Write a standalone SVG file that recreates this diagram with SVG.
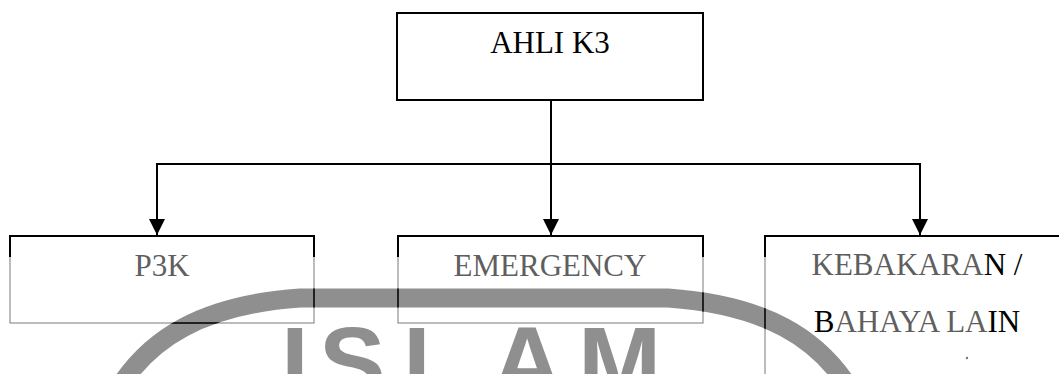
<svg xmlns="http://www.w3.org/2000/svg" width="1059" height="374" viewBox="0 0 1059 374">
  <style>
    .lbl { font-family: "Liberation Serif", "Times New Roman", serif; font-size: 31px; text-anchor: middle; }
    .top { fill: #000; }
    .low { fill: #5f5f5f; }
    .blk { fill: #000; }
    .box { fill: none; stroke: #000; stroke-width: 2; }
    .lowbox { fill: none; stroke: #7a7a7a; stroke-width: 1; }
    .edge { fill: none; stroke: #000; stroke-width: 2; }
    .conn { fill: none; stroke: #000; stroke-width: 2; }
    .wm { fill: #8f8f8f; font-family: "Liberation Sans", Arial, sans-serif; font-weight: bold; font-size: 100px; }
    .wmarc { fill: none; stroke: #8f8f8f; stroke-width: 19; }
  </style>
  <defs>
    <marker id="arrow" markerUnits="userSpaceOnUse" markerWidth="16" markerHeight="16" refX="15" refY="7.5" orient="auto" viewBox="0 0 15 15">
      <path d="M0,0 L15,7.5 L0,15 Z" fill="#000"/>
    </marker>
    <mask id="wmmask" maskUnits="userSpaceOnUse" x="0" y="0" width="1059" height="374">
      <rect x="0" y="0" width="1059" height="374" fill="#000"/>
      <path d="M120,386 C150,340 200,305 300,298 L668,298 C768,305 818,340 848,386" fill="none" stroke="#fff" stroke-width="19"/>
    </mask>
  </defs>

  <!-- watermark -->
  <g id="watermark">
    <path class="wmarc" d="M120,386 C150,340 200,305 300,298 L668,298 C768,305 818,340 848,386"/>
    <text class="wm" x="281 319 403 491 578" y="397">ISLAM</text>
  </g>

  <g id="connectors">
    <line class="conn" x1="551" y1="100" x2="551" y2="235" marker-end="url(#arrow)"/>
    <line class="conn" x1="156" y1="164" x2="921" y2="164"/>
    <line class="conn" x1="157" y1="163" x2="157" y2="235" marker-end="url(#arrow)"/>
    <line class="conn" x1="920" y1="163" x2="920" y2="235" marker-end="url(#arrow)"/>
  </g>

  <g id="node-ahli-k3">
    <rect class="box" x="397" y="13" width="306" height="87"/>
    <text class="lbl top" x="550" y="53">AHLI K3</text>
  </g>

  <g id="node-p3k">
    <rect class="lowbox" x="10" y="236" width="304" height="87"/>
    <path class="edge" d="M10,257 V236 H314 V257"/>
    <text class="lbl low" x="162" y="276">P3K</text>
  </g>

  <g id="node-emergency">
    <rect class="lowbox" x="398" y="236" width="305" height="87"/>
    <path class="edge" d="M398,257 V236 H703 V257"/>
    <text class="lbl low" x="550" y="276">EMERGENCY</text>
  </g>

  <g id="node-kebakaran">
    <rect class="lowbox" x="765" y="236" width="310" height="160"/>
    <path class="edge" d="M765,257 V236 H1070"/>
    <text class="lbl low" x="917" y="275">KEBAKARA<tspan class="blk">N /</tspan></text>
    <text class="lbl low" x="917" y="332"><tspan class="blk">B</tspan>AHAYA LA<tspan class="blk">IN</tspan></text>
    <circle cx="967" cy="358" r="1.2" fill="#777"/>
  </g>

  <g id="wm-overlap" mask="url(#wmmask)" fill="none" stroke="#000" stroke-width="1.5">
    <rect x="10" y="236" width="304" height="87"/>
    <rect x="398" y="236" width="305" height="87"/>
    <rect x="765" y="236" width="310" height="160"/>
  </g>
</svg>
